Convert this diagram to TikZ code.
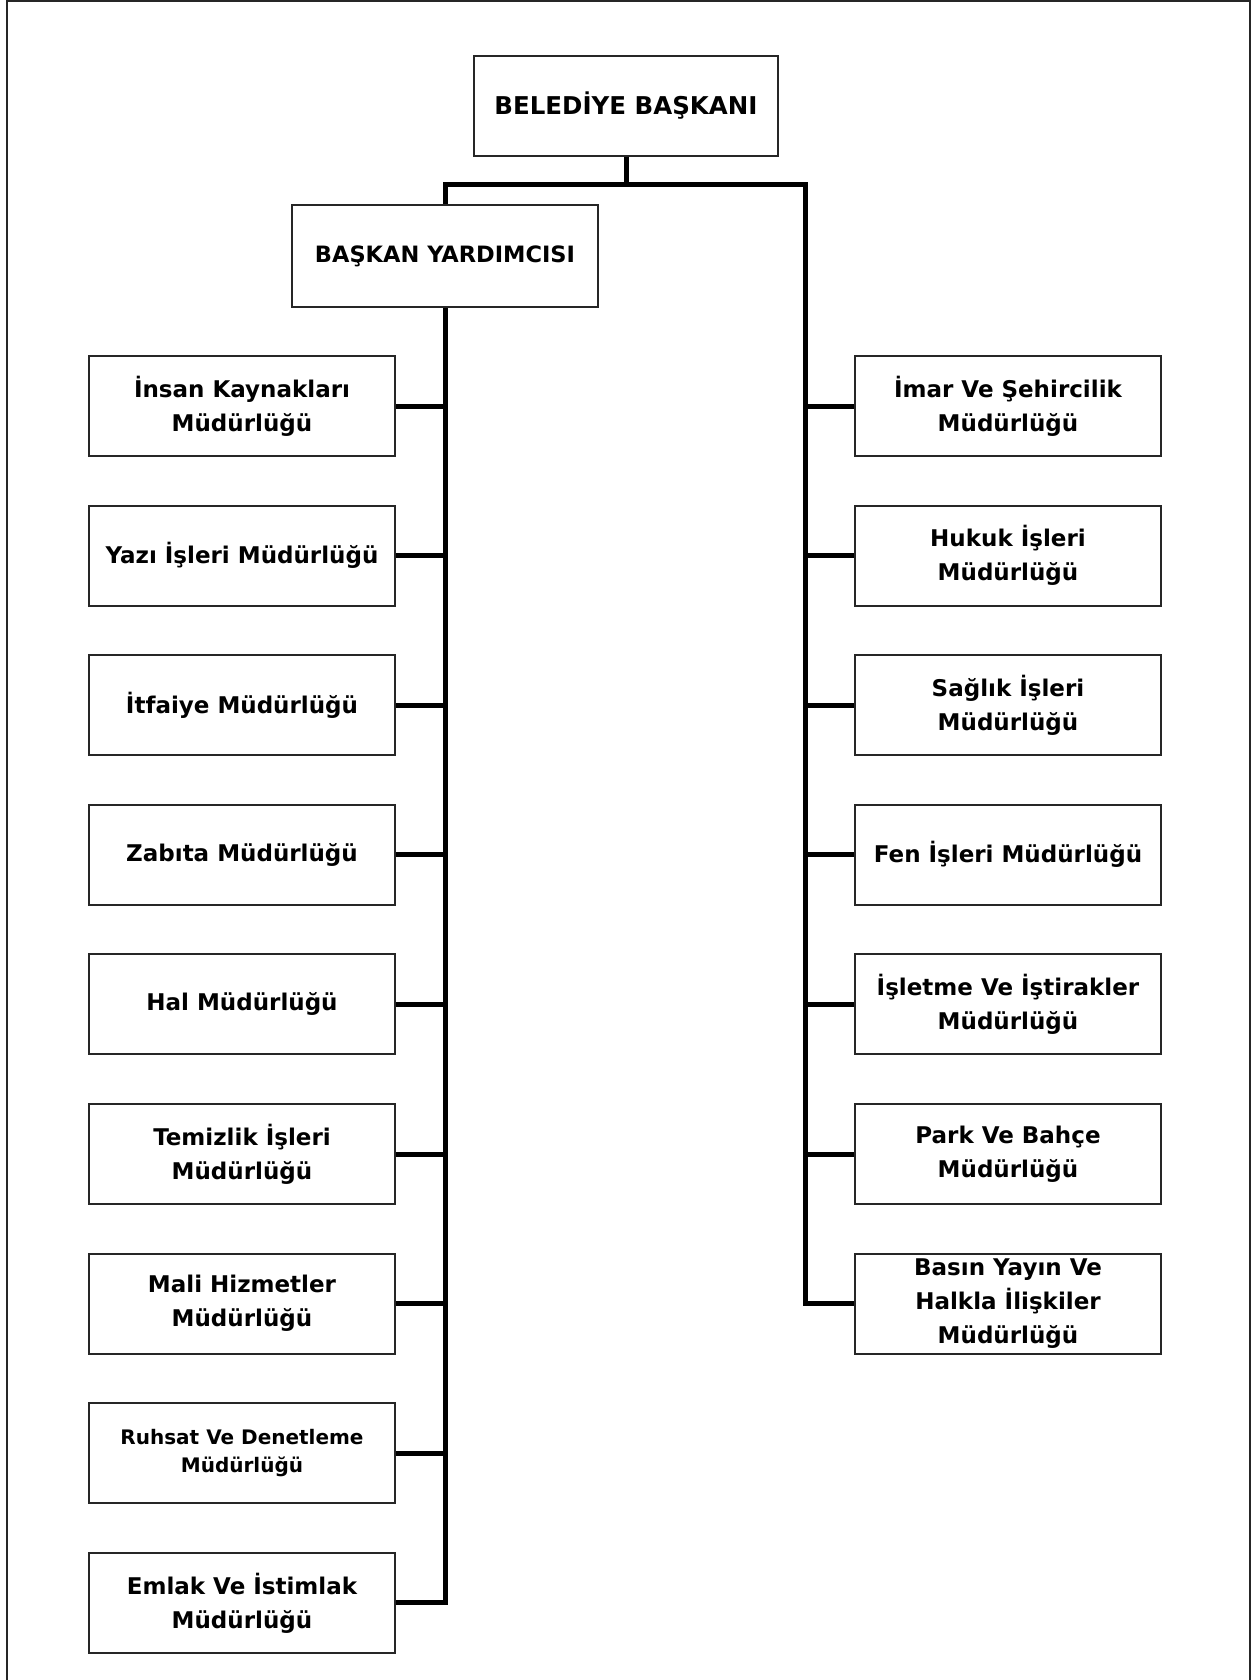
\documentclass[tikz,border=0pt]{standalone}
\usepackage{fontspec}
\setmainfont{DejaVu Sans}

\tikzset{
  birim/.style={shape=rectangle, draw=black!85, line width=2pt, minimum width=306pt,
    minimum height=100pt, inner sep=0pt, align=center,
    font=\bfseries\fontsize{23}{34}\selectfont},
  hat/.style={-, line width=5pt, black, line join=miter},
}

\begin{document}
\begin{tikzpicture}[x=1pt,y=-1pt]
\useasboundingbox (0,0) rectangle (1252,1680);
\draw[line width=2pt, black!85] (6.5,1680) -- (6.5,1.5) -- (1249.5,1.5) -- (1249.5,1680);

% ust kademe
\node[birim, minimum width=304pt, font=\bfseries\fontsize{24.5}{30}\selectfont] (bb) at (626,106) {BELEDİYE BAŞKANI};
\node[birim, minimum height=102pt, font=\bfseries\fontsize{22.5}{30}\selectfont] (by) at (445,256) {BAŞKAN YARDIMCISI};
\coordinate (sol) at (445,185);
\coordinate (sag) at (805,185);

% sol sutun
\node[birim] (l1) at (242,406)    {İnsan Kaynakları\\Müdürlüğü};
\node[birim] (l2) at (242,555.6)  {Yazı İşleri Müdürlüğü};
\node[birim] (l3) at (242,705.2)  {İtfaiye Müdürlüğü};
\node[birim] (l4) at (242,854.8)  {Zabıta Müdürlüğü};
\node[birim] (l5) at (242,1004.4) {Hal Müdürlüğü};
\node[birim] (l6) at (242,1154)   {Temizlik İşleri\\Müdürlüğü};
\node[birim] (l7) at (242,1303.6) {Mali Hizmetler\\Müdürlüğü};
\node[birim, font=\bfseries\fontsize{20}{28}\selectfont] (l8) at (242,1453.2) {Ruhsat Ve Denetleme\\Müdürlüğü};
\node[birim] (l9) at (242,1602.8) {Emlak Ve İstimlak\\Müdürlüğü};

% sag sutun
\node[birim] (r1) at (1008,406)    {İmar Ve Şehircilik\\Müdürlüğü};
\node[birim] (r2) at (1008,555.6)  {Hukuk İşleri\\Müdürlüğü};
\node[birim] (r3) at (1008,705.2)  {Sağlık İşleri\\Müdürlüğü};
\node[birim] (r4) at (1008,854.8)  {Fen İşleri Müdürlüğü};
\node[birim] (r5) at (1008,1004.4) {İşletme Ve İştirakler\\Müdürlüğü};
\node[birim] (r6) at (1008,1154)   {Park Ve Bahçe\\Müdürlüğü};
\node[birim] (r7) at (1008,1303.6) {Basın Yayın Ve\\Halkla İlişkiler\\Müdürlüğü};

% baglantilar
\draw[hat] (bb.south) -- (bb.south |- sol);
\draw[hat] (by.north) |- (sag) |- (r7.west);
\draw[hat] (by.south) |- (l9.east);

\path[hat] (l1.east) edge (l1.east -| by.south);
\path[hat] (l2.east) edge (l2.east -| by.south);
\path[hat] (l3.east) edge (l3.east -| by.south);
\path[hat] (l4.east) edge (l4.east -| by.south);
\path[hat] (l5.east) edge (l5.east -| by.south);
\path[hat] (l6.east) edge (l6.east -| by.south);
\path[hat] (l7.east) edge (l7.east -| by.south);
\path[hat] (l8.east) edge (l8.east -| by.south);

\path[hat] (r1.west) edge (r1.west -| sag);
\path[hat] (r2.west) edge (r2.west -| sag);
\path[hat] (r3.west) edge (r3.west -| sag);
\path[hat] (r4.west) edge (r4.west -| sag);
\path[hat] (r5.west) edge (r5.west -| sag);
\path[hat] (r6.west) edge (r6.west -| sag);
\end{tikzpicture}
\end{document}
